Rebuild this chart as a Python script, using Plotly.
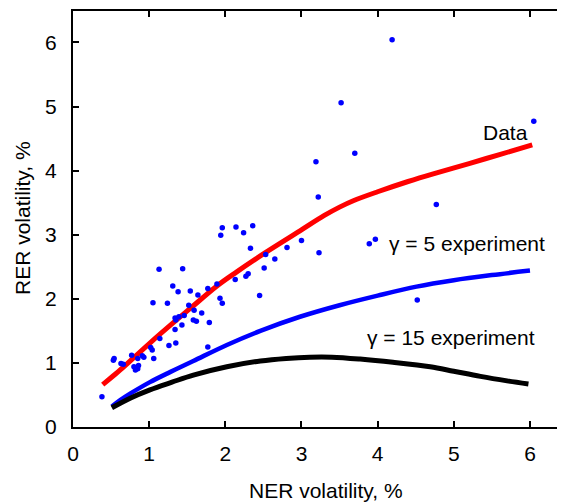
import plotly.graph_objects as go

# Scatter data (NER volatility, RER volatility)
pts_x = [4.19, 3.52, 6.05, 3.19, 3.70, 3.22, 4.77, 1.96, 1.94, 2.14, 2.24, 2.36, 2.33, 2.81,
         3.00, 3.23, 2.65, 2.53, 2.51, 1.13, 1.44, 3.89, 3.97, 4.52, 2.13, 2.27, 2.30, 2.45,
         1.54, 1.64, 1.77, 1.89, 1.93, 1.96, 1.52, 1.31, 1.38, 1.05, 1.24, 1.59, 1.46, 1.69,
         1.58, 1.62, 1.79, 1.43, 1.35, 1.34, 1.14, 1.02, 1.04, 1.06, 1.26, 1.35, 1.77, 0.54,
         0.53, 0.63, 0.66, 0.77, 0.85, 0.91, 0.93, 0.80, 0.86, 0.82, 0.85, 0.38, 1.39, 1.34]
pts_y = [6.04, 5.06, 4.77, 4.14, 4.27, 3.59, 3.47, 3.11, 2.99, 3.12, 3.03, 3.14, 2.79, 2.80,
         2.91, 2.72, 2.62, 2.69, 2.48, 2.46, 2.47, 2.86, 2.93, 1.98, 2.30, 2.35, 2.39, 2.05,
         2.12, 2.06, 2.16, 2.23, 2.01, 1.93, 1.90, 2.20, 2.11, 1.94, 1.93, 1.82, 1.74, 1.78,
         1.67, 1.65, 1.63, 1.59, 1.67, 1.52, 1.38, 1.24, 1.20, 1.07, 1.27, 1.31, 1.25, 1.07,
         1.04, 0.99, 0.98, 1.12, 1.07, 1.11, 1.09, 0.94, 0.96, 0.89, 0.91, 0.47, 1.72, 1.70]

# Fitted data curve
data_x = [0.39, 0.53, 0.62, 1.01, 1.36, 1.54, 1.89, 2.15, 2.5, 2.98, 3.3, 3.5, 3.68, 4.0, 4.4, 4.73, 5.2, 5.6, 6.03]
data_y = [0.66, 0.80, 0.89, 1.31, 1.67, 1.85, 2.20, 2.42, 2.70, 3.06, 3.30, 3.43, 3.53, 3.67, 3.83, 3.95, 4.11, 4.25, 4.40]

# gamma = 5 experiment
g5_x = [0.51, 0.62, 0.75, 1.01, 1.28, 1.58, 2.02, 2.46, 2.98, 3.5, 4.0, 4.51, 5.0, 5.5, 6.0]
g5_y = [0.32, 0.42, 0.52, 0.70, 0.86, 1.03, 1.28, 1.50, 1.72, 1.90, 2.05, 2.19, 2.29, 2.37, 2.44]

# gamma = 15 experiment
g15_x = [0.51, 0.75, 1.01, 1.3, 1.58, 2.02, 2.46, 2.8, 3.11, 3.4, 3.77, 4.2, 4.69, 5.0, 5.35, 5.7, 5.98]
g15_y = [0.30, 0.45, 0.58, 0.70, 0.81, 0.94, 1.03, 1.07, 1.09, 1.09, 1.06, 1.01, 0.94, 0.87, 0.79, 0.72, 0.67]

ticks = [0, 1, 2, 3, 4, 5, 6]
x_title = "NER volatility, %"
y_title = "RER volatility, %"
XR = [0, 6.46]
YR = [0, 6.49]
FONT = "Liberation Sans, Arial, sans-serif"
FS = 21

fig = go.Figure()
fig.add_trace(go.Scatter(x=data_x, y=data_y, mode="lines", line=dict(color="#ff0000", width=5, shape="spline"), showlegend=False))
fig.add_trace(go.Scatter(x=g5_x, y=g5_y, mode="lines", line=dict(color="#0000ff", width=4.5, shape="spline"), showlegend=False))
fig.add_trace(go.Scatter(x=g15_x, y=g15_y, mode="lines", line=dict(color="#000000", width=5, shape="spline"), showlegend=False))
fig.add_trace(go.Scatter(x=pts_x, y=pts_y, mode="markers", marker=dict(color="#0000ff", size=5.5), showlegend=False))
# invisible trace for right-hand tick axis
fig.add_trace(go.Scatter(x=[0], y=[0], xaxis="x", yaxis="y2", mode="markers", marker=dict(opacity=0), showlegend=False, hoverinfo="skip"))

fig.add_annotation(x=6.0, y=4.6, text="Data", showarrow=False, xanchor="right", yanchor="middle", font=dict(size=FS, color="black", family=FONT))
fig.add_annotation(x=6.22, y=2.86, text="γ = 5 experiment", showarrow=False, xanchor="right", yanchor="middle", font=dict(size=FS, color="black", family=FONT))
fig.add_annotation(x=6.09, y=1.39, text="γ = 15 experiment", showarrow=False, xanchor="right", yanchor="middle", font=dict(size=FS, color="black", family=FONT))

# axis titles as annotations for exact placement
fig.add_annotation(x=(326 - 73) / 492, y=-(490 - 427) / 416, xref="paper", yref="paper", text=x_title,
                   showarrow=False, xanchor="center", yanchor="middle", font=dict(size=FS, color="black", family=FONT))
fig.add_annotation(x=(22 - 73) / 492, y=(427 - 218) / 416, xref="paper", yref="paper", text=y_title, textangle=-90,
                   showarrow=False, xanchor="center", yanchor="middle", font=dict(size=FS, color="black", family=FONT))

# page body has an 8px default margin: shift the figure up/left to compensate
fig.update_layout(
    width=565, height=502,
    margin=dict(l=65, r=8, t=3, b=83),
    paper_bgcolor="white", plot_bgcolor="white",
    font=dict(family=FONT, size=FS, color="black"),
    xaxis=dict(range=XR, tickvals=ticks, ticks="inside", ticklen=6, tickwidth=1.5, tickcolor="black",
               showline=True, linecolor="black", linewidth=2, mirror="ticks", showgrid=False, zeroline=False,
               automargin=False, ticklabelstandoff=7),
    yaxis=dict(range=YR, tickvals=ticks, ticks="inside", ticklen=6, tickwidth=1.5, tickcolor="black",
               showline=True, linecolor="black", linewidth=2, showgrid=False, zeroline=False,
               automargin=False, ticklabelstandoff=10),
    yaxis2=dict(range=YR, tickvals=ticks, ticks="inside", ticklen=6, tickwidth=1.5, tickcolor="black",
                overlaying="y", side="right", showline=False, showgrid=False, zeroline=False,
                showticklabels=False, automargin=False),
)

fig.write_html("out.html")
